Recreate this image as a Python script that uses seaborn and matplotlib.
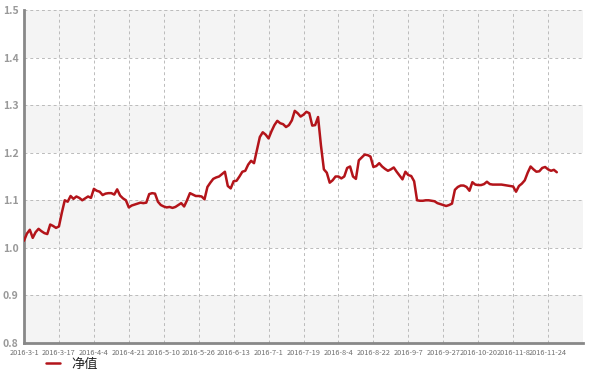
import numpy as np
import pandas as pd
import matplotlib
matplotlib.use("Agg")
import matplotlib.pyplot as plt
import seaborn as sns

values = [
    1.015, 1.030, 1.038, 1.021, 1.033, 1.040, 1.035, 1.031, 1.029, 1.049,
    1.046, 1.042, 1.045, 1.074, 1.100, 1.097, 1.109, 1.103, 1.108, 1.105,
    1.100, 1.104, 1.108, 1.105, 1.124, 1.120, 1.118, 1.111, 1.114, 1.115,
    1.115, 1.112, 1.123, 1.110, 1.104, 1.100, 1.085, 1.089, 1.091, 1.093,
    1.095, 1.094, 1.095, 1.113, 1.115, 1.114, 1.097, 1.090, 1.087, 1.085,
    1.086, 1.084, 1.086, 1.090, 1.094, 1.087, 1.100, 1.115, 1.112, 1.109,
    1.109, 1.108, 1.102, 1.128, 1.137, 1.145, 1.148, 1.150, 1.155, 1.160,
    1.130, 1.125, 1.140, 1.141, 1.150, 1.160, 1.162, 1.175, 1.183, 1.178,
    1.205, 1.233, 1.243, 1.238, 1.230, 1.245, 1.258, 1.267, 1.262, 1.260,
    1.254, 1.258, 1.268, 1.288, 1.283, 1.276, 1.280, 1.286, 1.283, 1.257,
    1.258, 1.275, 1.215, 1.165, 1.158, 1.137, 1.142, 1.150, 1.150, 1.146,
    1.150, 1.168, 1.171, 1.150, 1.145, 1.184, 1.190, 1.196, 1.195, 1.192,
    1.170, 1.172, 1.178, 1.171, 1.166, 1.162, 1.165, 1.169, 1.160, 1.152,
    1.144, 1.160, 1.153, 1.151, 1.140, 1.100, 1.099, 1.099, 1.100, 1.100,
    1.099, 1.098, 1.094, 1.092, 1.090, 1.088, 1.090, 1.093, 1.122, 1.128,
    1.131, 1.131, 1.128, 1.120, 1.138, 1.133, 1.132, 1.132, 1.134, 1.139,
    1.134, 1.133, 1.133, 1.133, 1.133, 1.132, 1.131, 1.130, 1.129, 1.118,
    1.130, 1.135, 1.142, 1.158, 1.171, 1.165, 1.160, 1.161, 1.168, 1.170,
    1.165, 1.162, 1.164, 1.159,
]
tick_labels = ["2016-3-1", "2016-3-17", "2016-4-4", "2016-4-21", "2016-5-10",
               "2016-5-26", "2016-6-13", "2016-7-1", "2016-7-19", "2016-8-4",
               "2016-8-22", "2016-9-7", "2016-9-27", "2016-10-20", "2016-11-8",
               "2016-11-24"]
y_ticks = [0.8, 0.9, 1.0, 1.1, 1.2, 1.3, 1.4, 1.5]
series_name = "净值"

df = pd.DataFrame({"idx": np.arange(len(values)), "value": values, "series": series_name})

sns.set_style("white")
plt.rcParams["font.family"] = ["Noto Sans CJK SC", "DejaVu Sans"]

fig = plt.figure(figsize=(5.92, 3.71), dpi=100)
ax = fig.add_axes([24/592, 1-343/371, (583-24)/592, (343-10)/371])

# alternating bands
for i, lo in enumerate(y_ticks[:-1]):
    if i % 2 == 0:
        ax.axhspan(lo, lo + 0.1, color="#f4f4f4", zorder=0, lw=0)

sns.lineplot(data=df, x="idx", y="value", hue="series", palette=["#b3141a"],
             linewidth=1.8, ax=ax, legend=True, zorder=3)

step = 12
tick_pos = [i * step for i in range(len(tick_labels))]
ax.set_xlim(0, 192)
ax.set_ylim(0.8, 1.5)
ax.set_xticks(tick_pos + [192])
ax.set_xticklabels(tick_labels + [""], fontsize=5.3, color="#6f6f6f")
ax.set_yticks(y_ticks)
ax.set_yticklabels([f"{v:.1f}" for v in y_ticks], fontsize=7.5, color="#999999", fontweight="bold")
ax.tick_params(axis="x", length=0, pad=4)
ax.tick_params(axis="y", length=0, pad=4)

ax.grid(True, axis="both", color="#bbbbbb", linestyle=(0, (3, 3)), linewidth=0.7, zorder=1)
ax.set_axisbelow(True)
for s in ["top", "right"]:
    ax.spines[s].set_visible(False)
ax.spines["left"].set_color("#888888")
ax.spines["left"].set_linewidth(2)
ax.spines["bottom"].set_color("#888888")
ax.spines["bottom"].set_linewidth(2)
ax.set_xlabel("")
ax.set_ylabel("")

leg = ax.legend(loc="upper left", bbox_to_anchor=(46/592, 1-357.5/371),
                bbox_transform=fig.transFigure, frameon=False, fontsize=9.5,
                handlelength=1.05, handletextpad=0.85, borderaxespad=0,
                borderpad=0)
for t in leg.get_texts():
    t.set_color("#222222")

fig.savefig("out.png", dpi=100)
